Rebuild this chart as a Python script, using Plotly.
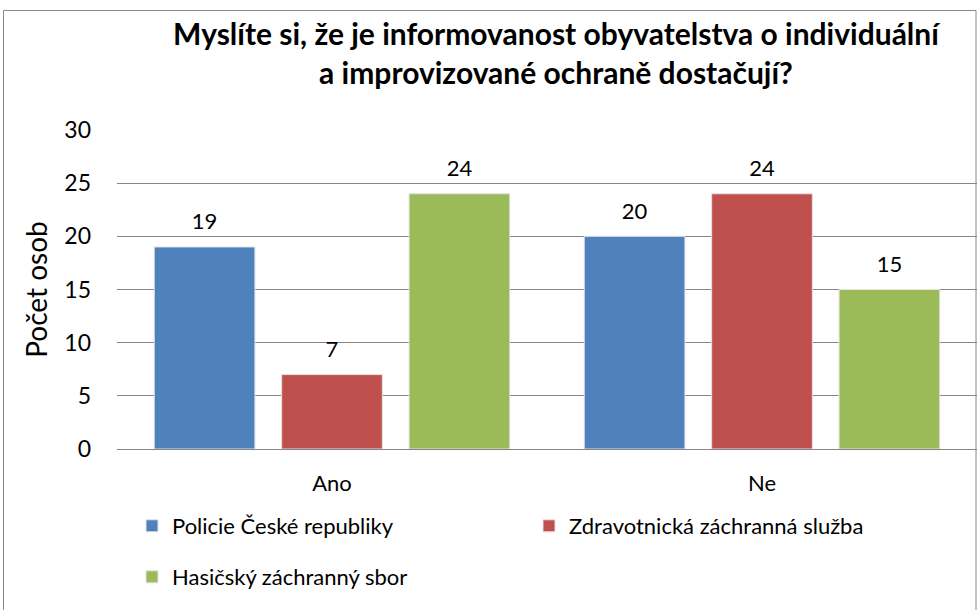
import plotly.graph_objects as go

categories = ["Ano", "Ne"]
series_names = ["Policie České republiky", "Zdravotnická záchranná služba", "Hasičský záchranný sbor"]
policie = [19, 20]
zdravotnicka = [7, 24]
hasicsky = [24, 15]
colors = ["#4F81BD", "#C0504D", "#9BBB59"]
y_ticks = [0, 5, 10, 15, 20, 25, 30]

W, H = 977, 610
L, R, T, B = 117, 0, 130, 161
pw, ph = W - L - R, H - T - B

def px_x(p):
    return (p - L) / pw

def px_y(p):
    return (H - B - p) / ph

FONT = "Lato, Open Sans, sans-serif"

fig = go.Figure()
legends = ["legend", "legend", "legend2"]
all_vals = [policie, zdravotnicka, hasicsky]
for i, (name, vals, col, lg) in enumerate(zip(series_names, all_vals, colors, legends)):
    fig.add_trace(go.Bar(
        x=categories, y=vals, name=name,
        marker=dict(color=col, line=dict(color="#E2E2E2", width=1)),
        legend=lg, offsetgroup=str(i), alignmentgroup="a",
    ))
for i, vals in enumerate(all_vals):
    fig.add_trace(go.Scatter(
        x=categories, y=vals, mode="markers+text",
        marker=dict(size=18, color="rgba(0,0,0,0)"),
        text=[str(v) for v in vals], textposition="top center",
        textfont=dict(size=22, color="#000000", family=FONT),
        showlegend=False, hoverinfo="skip", cliponaxis=False,
        offsetgroup=str(i), alignmentgroup="a",
    ))

fig.update_layout(
    width=W, height=H,
    margin=dict(l=L, r=R, t=T, b=B, autoexpand=False),
    paper_bgcolor="white", plot_bgcolor="white",
    barmode="group", bargap=0.111, bargroupgap=0.21,
    scattermode="group", scattergap=0.111,
    font=dict(family=FONT, color="#000000"),
    title=dict(
        text="<b>Myslíte si, že je informovanost obyvatelstva o individuální<br>a improvizované ochraně dostačují?</b>",
        x=556 / W, xanchor="center", y=1 - 45 / H, yanchor="top",
        font=dict(size=30, family=FONT, color="#000000"),
    ),
    xaxis=dict(
        showgrid=False, showline=True, linecolor="#868686", linewidth=1,
        tickfont=dict(size=22, family=FONT, color="#000000"),
        ticks="", ticklabelstandoff=15,
    ),
    yaxis=dict(
        range=[0, 30], tickvals=y_ticks, showgrid=True, gridcolor="#868686", gridwidth=1,
        zeroline=False, showline=False,
        tickfont=dict(size=23, family=FONT, color="#000000"),
        ticklabelstandoff=25,
        title=dict(text="Počet osob", font=dict(size=28, family=FONT, color="#000000"), standoff=8),
    ),
    legend=dict(
        orientation="h", x=px_x(132), xanchor="left", y=px_y(505), yanchor="top",
        font=dict(size=22, family=FONT, color="#000000"), entrywidth=352, entrywidthmode="pixels",
        bgcolor="rgba(0,0,0,0)",
    ),
    legend2=dict(
        orientation="h", x=px_x(132), xanchor="left", y=px_y(556), yanchor="top",
        font=dict(size=22, family=FONT, color="#000000"),
        bgcolor="rgba(0,0,0,0)",
    ),
    shapes=[dict(
        type="rect", xref="paper", yref="paper",
        x0=px_x(3.5), x1=px_x(976), y0=px_y(612), y1=px_y(10.5),
        line=dict(color="#898989", width=1), fillcolor="rgba(0,0,0,0)", layer="below",
    )],
)

fig.write_html("out.html", config={"displayModeBar": False},
               post_script="document.body.style.margin='0';")
